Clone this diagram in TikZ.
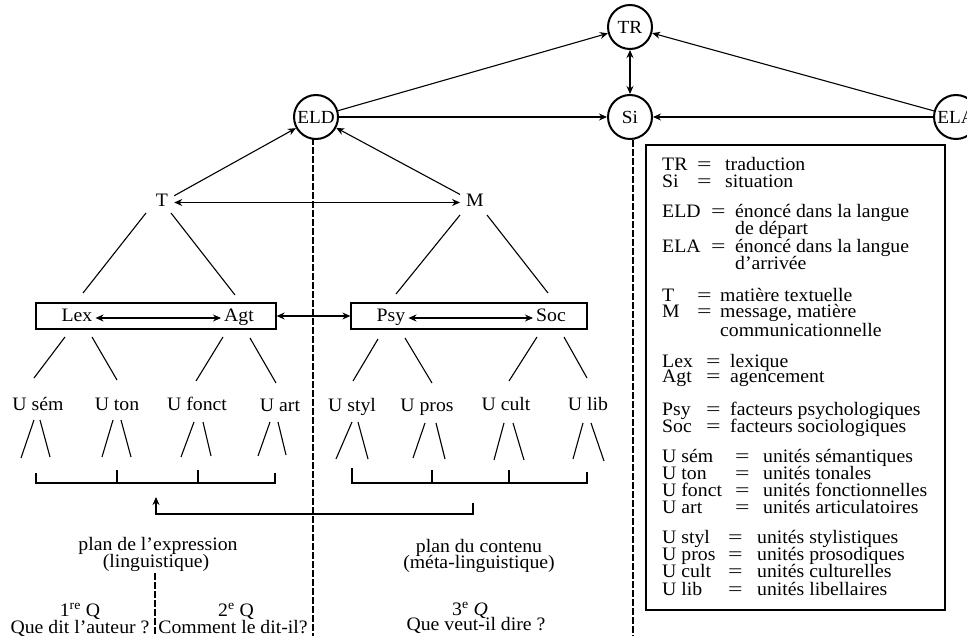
\documentclass[tikz,border=0pt]{standalone}
\usepackage{fontspec}
\usepackage{graphicx}
\setmainfont{Liberation Serif}[FakeStretch=1.04]
\usetikzlibrary{arrows.meta}
\tikzset{
  txt/.style={font=\fontsize{19}{17}\selectfont, inner sep=0pt, text height=11pt, text depth=3pt},
  circ/.style={circle, draw, line width=2pt, minimum size=44pt, inner sep=0pt, font=\fontsize{18.5}{18}\selectfont},
  ln/.style={line width=1.1pt},
  arr/.style={ln, -{Stealth[length=8pt,width=7pt]}},
  darr/.style={ln, {Stealth[length=8pt,width=7pt]}-{Stealth[length=8pt,width=7pt]}},
  dsh/.style={line width=1.1pt, dash pattern=on 7pt off 2pt},
  boxn/.style={draw, line width=1.3pt, minimum height=26pt, inner sep=0pt},
}
\newcommand\legeq{\scalebox{1.3}[1]{=}}
\newcommand\legrow[5]{%
  \node[txt,anchor=base west] (la#1) at (662,#1) {#2};
  \node[txt,anchor=base west] (le#1) at (#3,#1) {\legeq};
  \node[txt,anchor=base west] (ld#1) at (#4,#1) {#5};}
\newcommand\legcont[3]{%
  \node[txt,anchor=base west] (lc#1) at (#2,#1) {#3};}
\begin{document}
\begin{tikzpicture}[x=1pt,y=-1pt]
\useasboundingbox (0,0) rectangle (967,636);

% circles
\node[circ] (TR) at (630,27) {TR};
\node[circ] (Si) at (630,117) {Si};
\node[circ] (ELD) at (316,117) {ELD};
\node[circ] (ELA) at (956,117) {ELA};

% T and M
\node[txt, inner sep=6pt, anchor=base] (T) at (162,206.5) {T};
\node[txt, inner sep=6pt, anchor=base] (M) at (475,206.5) {M};

% boxes
\node[boxn, minimum width=240pt] (box1) at (156,316) {};
\node[boxn, minimum width=236pt] (box2) at (469,316) {};
\node[txt, inner sep=3pt, anchor=base] (Lex) at (77,322) {Lex};
\node[txt, inner sep=3pt, anchor=base] (Agt) at (239,322) {Agt};
\node[txt, inner sep=3pt, anchor=base] (Psy) at (391,322) {Psy};
\node[txt, inner sep=3pt, anchor=base] (Soc) at (551,322) {Soc};

% arrows top
\draw[arr] (ELD) -- (TR);
\draw[arr] (ELD) -- (Si);
\draw[arr] (ELA) -- (TR);
\draw[arr] (ELA) -- (Si);
\draw[darr] (TR) -- (Si);
\draw[arr] (T) -- (ELD);
\draw[arr] (M) -- (ELD);
\draw[darr] (T) -- (M);
\draw[darr] (Lex) -- (Agt);
\draw[darr] (Psy) -- (Soc);
\draw[darr] (box1.east) -- (box2.west);

% dashed verticals
\coordinate (dA) at (313,636);
\coordinate (dB) at (633,636);
\draw[dsh] (313,138) -- (dA);
\draw[dsh] (633,140) -- (dB);
\draw[dsh] (155,573) -- (155,636);

% tree lines from T, M
\draw[ln] (146,213) -- (83,293);
\draw[ln] (171,213) -- (235,295);
\draw[ln] (460,215) -- (396,294);
\draw[ln] (487,215) -- (548,293);

% tree lines from boxes
\draw[ln] (65,337) -- (34,378);
\draw[ln] (92,337) -- (117,380);
\draw[ln] (223,337) -- (196,381);
\draw[ln] (250,338) -- (276,383);
\draw[ln] (378,339) -- (353,381);
\draw[ln] (405,338) -- (432,383);
\draw[ln] (537,337) -- (509,381);
\draw[ln] (564,337) -- (587,378);

% unit labels
\node[txt, anchor=base] (usem) at (38,410) {U sém};
\node[txt, anchor=base] (uton) at (117,410) {U ton};
\node[txt, anchor=base] (ufonct) at (197,410) {U fonct};
\node[txt, anchor=base] (uart) at (280,411) {U art};
\node[txt, anchor=base] (ustyl) at (352,411) {U styl};
\node[txt, anchor=base] (upros) at (427,411) {U pros};
\node[txt, anchor=base] (ucult) at (506,410) {U cult};
\node[txt, anchor=base] (ulib) at (588,410) {U lib};

% small forks
\draw[ln] (21,458) -- (34,420);  \draw[ln] (40,420) -- (50,457);
\draw[ln] (102,457) -- (113,420); \draw[ln] (121,420) -- (131,457);
\draw[ln] (181,457) -- (194,422); \draw[ln] (203,422) -- (211,456);
\draw[ln] (258,456) -- (270,422); \draw[ln] (278,422) -- (286,455);
\draw[ln] (336,459) -- (352,422); \draw[ln] (358,422) -- (368,459);
\draw[ln] (413,458) -- (425,423); \draw[ln] (436,423) -- (445,459);
\draw[ln] (494,460) -- (504,423); \draw[ln] (513,423) -- (524,460);
\draw[ln] (573,459) -- (583,423); \draw[ln] (591,423) -- (604,461);

% brackets
\draw[ln] (36,473) -- (36,483) -- (275,483) -- (275,473);
\draw[ln] (117,470) -- (117,483);
\draw[ln] (198,470) -- (198,483);
\draw[ln] (352,468) -- (352,483) -- (587,483) -- (587,472);
\draw[ln] (432,470) -- (432,483);
\draw[ln] (509,470) -- (509,483);

% feedback arrow
\coordinate (fbA) at (473,503);
\coordinate (fbB) at (156,497);
\draw[arr] (fbA) -- (473,514) -- (156,514) -- (fbB);

% bottom texts
\node[txt, anchor=base] (pe1) at (158,550) {plan de l’expression};
\node[txt, anchor=base] (pe2) at (156,567) {(linguistique)};
\node[txt, anchor=base] (pc1) at (479,552) {plan du contenu};
\node[txt, anchor=base] (pc2) at (479,568) {(méta-linguistique)};
\node[txt, anchor=base] (q1) at (80,616) {1\textsuperscript{re} Q};
\node[txt, anchor=base] (q1b) at (80,633) {Que dit l’auteur ?};
\node[txt, anchor=base] (q2) at (236,616) {2\textsuperscript{e} Q};
\node[txt, anchor=base] (q2b) at (233,633) {Comment le dit-il?};
\node[txt, anchor=base] (q3) at (470,615) {3\textsuperscript{e} \textit{Q}};
\node[txt, anchor=base] (q3b) at (476,630) {Que veut-il dire ?};

% legend
\node[draw, line width=1.3pt, minimum width=299pt, minimum height=465pt, inner sep=0pt] (legbox) at (795.5,377.5) {};
\legrow{171}{TR}{697}{725}{traduction}
\legrow{188}{Si}{697}{725}{situation}
\legrow{218}{ELD}{711}{735}{énoncé dans la langue}
\legcont{235}{735}{de départ}
\legrow{253}{ELA}{711}{735}{énoncé dans la langue}
\legcont{270}{735}{d’arrivée}
\legrow{302}{T}{697}{720}{matière textuelle}
\legrow{318}{M}{697}{720}{message, matière}
\legcont{337}{720}{communicationnelle}
\legrow{367}{Lex}{706}{730}{lexique}
\legrow{383}{Agt}{706}{730}{agencement}
\legrow{415}{Psy}{706}{730}{facteurs psychologiques}
\legrow{432}{Soc}{706}{730}{facteurs sociologiques}
\legrow{462}{U sém}{735}{763}{unités sémantiques}
\legrow{479}{U ton}{735}{763}{unités tonales}
\legrow{496}{U fonct}{735}{763}{unités fonctionnelles}
\legrow{513}{U art}{735}{763}{unités articulatoires}
\legrow{543}{U styl}{728}{757}{unités stylistiques}
\legrow{560}{U pros}{728}{757}{unités prosodiques}
\legrow{577}{U cult}{728}{757}{unités culturelles}
\legrow{595}{U lib}{728}{757}{unités libellaires}
\end{tikzpicture}
\end{document}
